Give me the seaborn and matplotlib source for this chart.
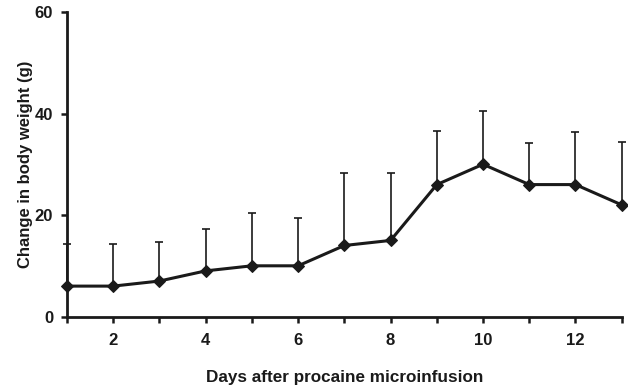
import matplotlib
matplotlib.use("Agg")
import matplotlib.pyplot as plt
import seaborn as sns
import numpy as np
import pandas as pd

days = [1, 2, 3, 4, 5, 6, 7, 8, 9, 10, 11, 12, 13]
weight_change = [6, 6, 7, 9, 10, 10, 14, 15, 26, 30, 26, 26, 22]
upper_error = [8.2, 8.2, 7.6, 8.3, 10.4, 9.4, 14.2, 13.2, 10.5, 10.5, 8.1, 10.3, 12.4]
x_tick_labels = ["", "2", "", "4", "", "6", "", "8", "", "10", "", "12", ""]
y_ticks = [0, 20, 40, 60]

sns.set_style("ticks")
plt.rcParams["font.family"] = ["Liberation Sans", "DejaVu Sans"]
plt.rcParams["font.weight"] = "bold"

df = pd.DataFrame({"day": days, "change": weight_change})

fig = plt.figure(figsize=(6.28, 3.87), dpi=100)
ax = fig.add_axes([0.1067, 0.182, 0.8833, 0.787])

ax.errorbar(days, weight_change, yerr=[np.zeros(len(upper_error)), upper_error],
            fmt="none", ecolor="#1a1a1a", elinewidth=1.2, capsize=3, capthick=1.2,
            zorder=2, clip_on=False)
sns.lineplot(data=df, x="day", y="change", ax=ax, color="#1a1a1a", linewidth=2.2,
             marker="D", markersize=6.5, markeredgecolor="#1a1a1a", zorder=3, clip_on=False)

ax.set_xlim(1, 13)
ax.set_ylim(0, 60)
ax.set_xticks(days)
ax.set_xticklabels(x_tick_labels)
ax.set_yticks(y_ticks)
ax.tick_params(axis="both", direction="out", length=4, width=1.8, labelsize=12,
               colors="#1a1a1a")
ax.tick_params(axis="x", pad=8)
ax.tick_params(axis="y", pad=6)
for lab in ax.get_xticklabels() + ax.get_yticklabels():
    lab.set_fontweight("bold")

sns.despine(ax=ax)
for s in ["left", "bottom"]:
    ax.spines[s].set_linewidth(2)
    ax.spines[s].set_color("#1a1a1a")

ax.set_xlabel("Days after procaine microinfusion", fontsize=12.3, fontweight="bold",
              color="#1a1a1a")
ax.set_ylabel("Change in body weight (g)", fontsize=12, fontweight="bold",
              color="#1a1a1a")
ax.xaxis.set_label_coords(0.5, -0.199)
ax.yaxis.set_label_coords(-0.0757, 0.5)
ax.xaxis.label.set_va("center")
ax.yaxis.label.set_va("center")

fig.savefig("out.png", dpi=100)
